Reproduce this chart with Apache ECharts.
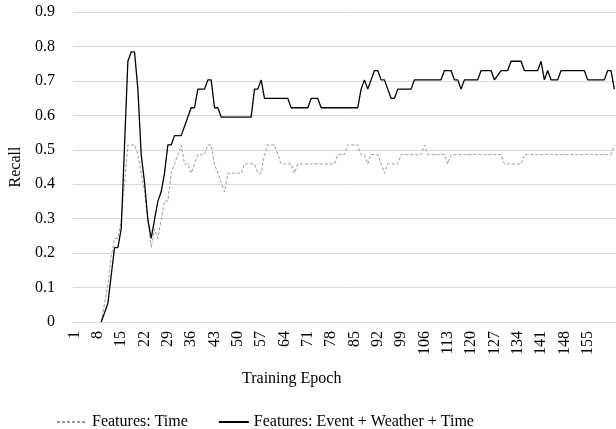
<!DOCTYPE html>
<html>
<head>
<meta charset="utf-8">
<script src="https://cdn.jsdelivr.net/npm/echarts@6/dist/echarts.min.js"></script>
<style>
html,body{margin:0;padding:0;background:#fff;}
#chart{width:616px;height:429px;}
</style>
</head>
<body>
<div id="chart"></div>
<script>
var epochs = [1,2,3,4,5,6,7,8,9,10,11,12,13,14,15,16,17,18,19,20,21,22,23,24,25,26,27,28,29,30,31,32,33,34,35,36,37,38,39,40,41,42,43,44,45,46,47,48,49,50,51,52,53,54,55,56,57,58,59,60,61,62,63,64,65,66,67,68,69,70,71,72,73,74,75,76,77,78,79,80,81,82,83,84,85,86,87,88,89,90,91,92,93,94,95,96,97,98,99,100,101,102,103,104,105,106,107,108,109,110,111,112,113,114,115,116,117,118,119,120,121,122,123,124,125,126,127,128,129,130,131,132,133,134,135,136,137,138,139,140,141,142,143,144,145,146,147,148,149,150,151,152,153,154,155,156,157,158,159,160,161,162,163];

var shownTickLabels = [1,8,15,22,29,36,43,50,57,64,71,78,85,92,99,106,113,120,127,134,141,148,155];

var recallTime = [
null,null,null,null,null,null,null,null,0,0.054,
0.108,0.189,0.243,0.243,0.297,0.405,0.514,0.514,0.514,0.486,
0.432,0.378,0.297,0.216,0.270,0.243,0.297,0.351,0.351,0.432,
0.459,0.486,0.514,0.459,0.459,0.432,0.459,0.486,0.486,0.486,
0.514,0.514,0.459,0.432,0.405,0.378,0.432,0.432,0.432,0.432,
0.432,0.459,0.459,0.459,0.459,0.432,0.432,0.486,0.514,0.514,
0.514,0.486,0.459,0.459,0.459,0.459,0.432,0.459,0.459,0.459,
0.459,0.459,0.459,0.459,0.459,0.459,0.459,0.459,0.459,0.486,
0.486,0.486,0.514,0.514,0.514,0.514,0.486,0.486,0.459,0.486,
0.486,0.486,0.459,0.432,0.459,0.459,0.459,0.459,0.486,0.486,
0.486,0.486,0.486,0.486,0.486,0.514,0.486,0.486,0.486,0.486,
0.486,0.486,0.459,0.486,0.486,0.486,0.486,0.486,0.486,0.486,
0.486,0.486,0.486,0.486,0.486,0.486,0.486,0.486,0.486,0.459,
0.459,0.459,0.459,0.459,0.459,0.486,0.486,0.486,0.486,0.486,
0.486,0.486,0.486,0.486,0.486,0.486,0.486,0.486,0.486,0.486,
0.486,0.486,0.486,0.486,0.486,0.486,0.486,0.486,0.486,0.486,
0.486,0.486,0.514
];

var recallAll = [
null,null,null,null,null,null,null,null,0,0.027,
0.054,0.135,0.216,0.216,0.270,0.514,0.757,0.784,0.784,0.676,
0.486,0.405,0.297,0.243,0.297,0.351,0.378,0.432,0.514,0.514,
0.541,0.541,0.541,0.568,0.595,0.622,0.622,0.676,0.676,0.676,
0.703,0.703,0.622,0.622,0.595,0.595,0.595,0.595,0.595,0.595,
0.595,0.595,0.595,0.595,0.676,0.676,0.703,0.649,0.649,0.649,
0.649,0.649,0.649,0.649,0.649,0.622,0.622,0.622,0.622,0.622,
0.622,0.649,0.649,0.649,0.622,0.622,0.622,0.622,0.622,0.622,
0.622,0.622,0.622,0.622,0.622,0.622,0.676,0.703,0.676,0.703,
0.730,0.730,0.703,0.703,0.676,0.649,0.649,0.676,0.676,0.676,
0.676,0.676,0.703,0.703,0.703,0.703,0.703,0.703,0.703,0.703,
0.703,0.730,0.730,0.730,0.703,0.703,0.676,0.703,0.703,0.703,
0.703,0.703,0.730,0.730,0.730,0.730,0.703,0.716,0.730,0.730,
0.730,0.757,0.757,0.757,0.757,0.730,0.730,0.730,0.730,0.730,
0.757,0.703,0.730,0.703,0.703,0.703,0.730,0.730,0.730,0.730,
0.730,0.730,0.730,0.730,0.703,0.703,0.703,0.703,0.703,0.703,
0.730,0.730,0.676
];

var seriesNames = ['Features: Time', 'Features: Event + Weather + Time'];
var yTicks = {min: 0, max: 0.9, interval: 0.1};

var FONT = '"Liberation Serif", "Times New Roman", serif';
var chart = echarts.init(document.getElementById('chart'), null, {renderer: 'canvas'});
chart.setOption({
  animation: false,
  backgroundColor: '#ffffff',
  textStyle: {fontFamily: FONT, color: '#000'},
  grid: {left: 72, right: 0, top: 12, bottom: 107, containLabel: false},
  legend: {
    data: seriesNames,
    left: 51, top: 409,
    itemWidth: 30, itemHeight: 10, itemGap: 30,
    itemStyle: {color: 'rgba(0,0,0,0)', borderColor: 'rgba(0,0,0,0)', borderWidth: 0},
    textStyle: {fontFamily: FONT, fontSize: 16, color: '#000'}
  },
  graphic: [{
    type: 'text', left: 242, top: 371,
    style: {text: 'Training Epoch', fontFamily: FONT, fontSize: 16, fill: '#000'}
  }],
  xAxis: {
    type: 'category',
    data: epochs,
    boundaryGap: true,
    axisLine: {show: true, lineStyle: {color: '#d9d9d9', width: 1}},
    axisTick: {show: false},
    splitLine: {show: false},
    axisLabel: {
      interval: function (idx, val) { return shownTickLabels.indexOf(Number(val)) !== -1; },
      rotate: 90, fontSize: 16, fontFamily: FONT, color: '#000', margin: 9
    }
  },
  yAxis: {
    type: 'value',
    min: yTicks.min, max: yTicks.max, interval: yTicks.interval,
    name: 'Recall', nameLocation: 'middle', nameRotate: 90, nameGap: 44,
    nameTextStyle: {fontSize: 16, fontFamily: FONT, color: '#000'},
    axisLine: {show: false},
    axisTick: {show: false},
    splitLine: {lineStyle: {color: '#d9d9d9', width: 1}},
    axisLabel: {fontSize: 16, fontFamily: FONT, color: '#000', margin: 18,
      formatter: function (v) { return v === 0 ? '0' : v.toFixed(1); }}
  },
  series: [
    {
      name: seriesNames[0], type: 'line', data: recallTime,
      symbol: 'none', connectNulls: false,
      lineStyle: {color: '#9a9a9a', width: 1, type: [3, 2]},
      itemStyle: {color: '#9a9a9a'}
    },
    {
      name: seriesNames[1], type: 'line', data: recallAll,
      symbol: 'none', connectNulls: false,
      lineStyle: {color: '#000000', width: 1.3},
      itemStyle: {color: '#000000'}
    }
  ]
});
</script>
</body>
</html>
